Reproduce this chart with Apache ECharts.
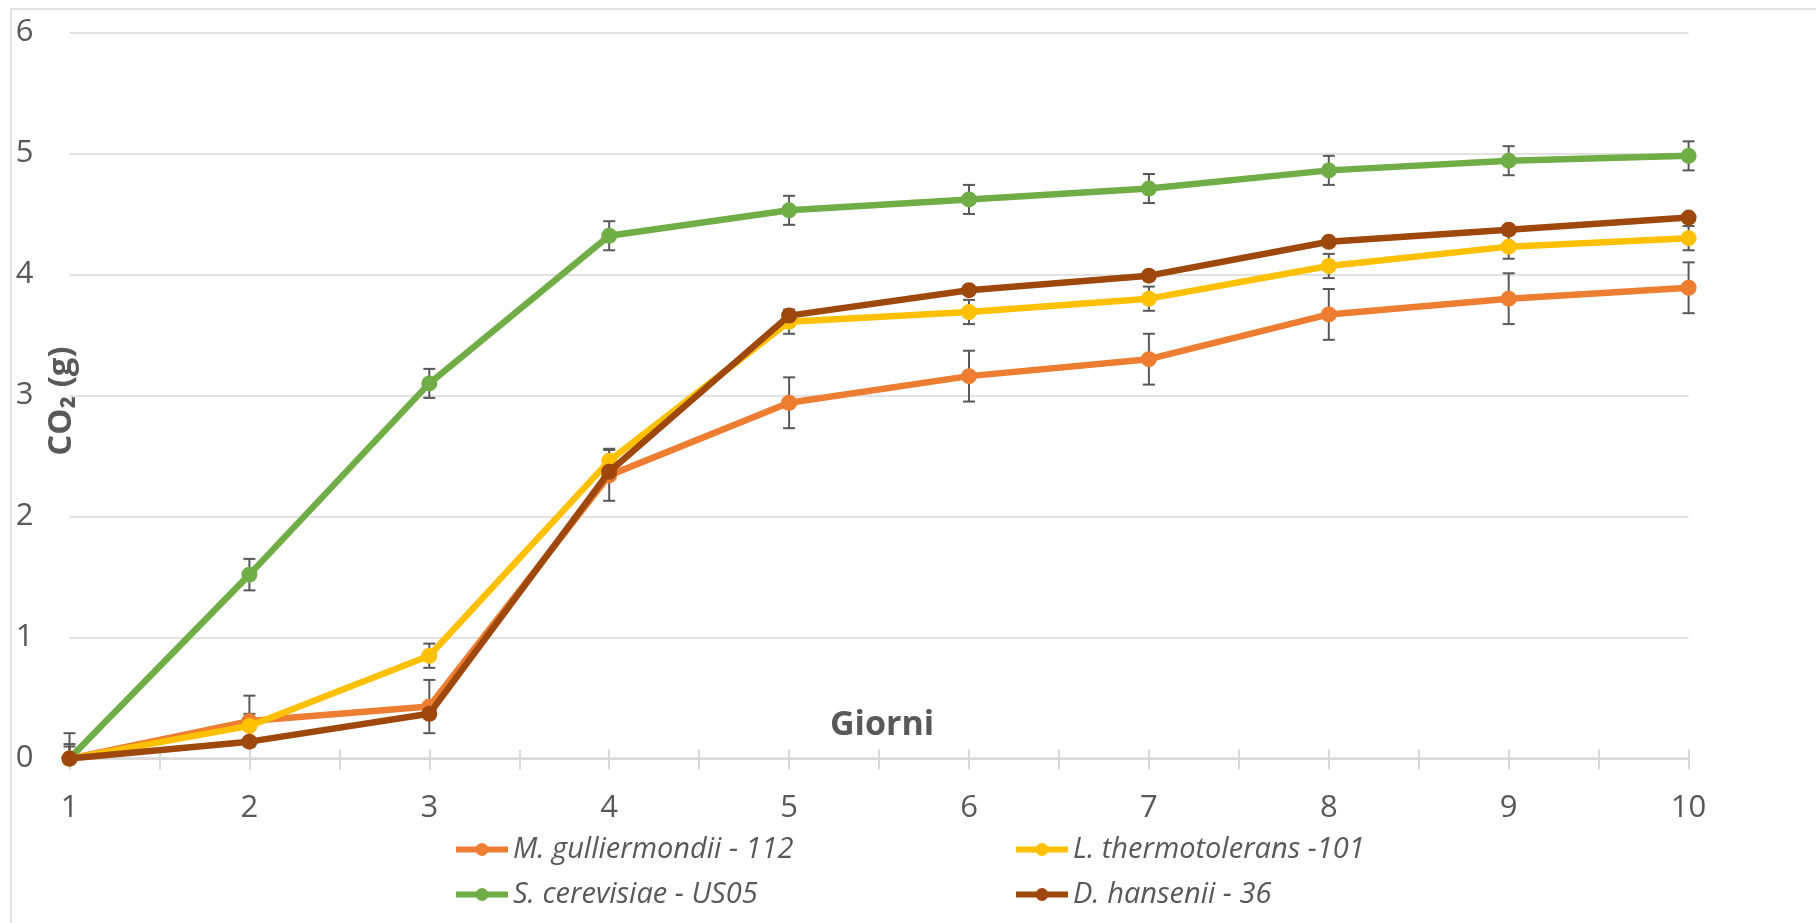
<!DOCTYPE html>
<html>
<head>
<meta charset="utf-8">
<script src="https://cdn.jsdelivr.net/npm/echarts@6/dist/echarts.min.js"></script>
<style>
html,body{margin:0;padding:0;background:#fff;}
#chart{width:1816px;height:923px;}
</style>
</head>
<body>
<div id="chart"></div>
<script>
var days = [1, 2, 3, 4, 5, 6, 7, 8, 9, 10];
var yTicks = [0, 1, 2, 3, 4, 5, 6];
var seriesNames = ['M. gulliermondii - 112', 'L. thermotolerans -101', 'S. cerevisiae - US05', 'D. hansenii - 36'];
var colors = ['#ED7D31', '#FFC000', '#70AD47', '#9E480E'];

var mGulliermondii = [0, 0.31, 0.43, 2.34, 2.94, 3.16, 3.30, 3.67, 3.80, 3.89];
var lThermotolerans = [0, 0.27, 0.85, 2.46, 3.61, 3.69, 3.80, 4.07, 4.23, 4.30];
var sCerevisiae = [0, 1.52, 3.10, 4.32, 4.53, 4.62, 4.71, 4.86, 4.94, 4.98];
var dHansenii = [0, 0.14, 0.37, 2.37, 3.66, 3.87, 3.99, 4.27, 4.37, 4.47];

var errM = [0.21, 0.21, 0.22, 0.21, 0.21, 0.21, 0.21, 0.21, 0.21, 0.21];
var errL = [0.10, 0.10, 0.10, 0.10, 0.10, 0.10, 0.10, 0.10, 0.10, 0.10];
var errS = [0.12, 0.13, 0.12, 0.12, 0.12, 0.12, 0.12, 0.12, 0.12, 0.12];
var errD = [0.03, 0.03, 0.03, 0.03, 0.03, 0.03, 0.03, 0.03, 0.03, 0.03];

var allValues = [mGulliermondii, lThermotolerans, sCerevisiae, dHansenii];
var allErrors = [errM, errL, errS, errD];

var FONT = '"Open Sans", "Noto Sans", sans-serif';
var TEXT = '#595959';
var GRIDC = '#d9d9d9';

function errRender(params, api) {
  var x = api.value(0), loV = api.value(1), hiV = api.value(2);
  var lo = Math.max(loV, 0);
  var pHi = api.coord([x, hiV]);
  var pLo = api.coord([x, lo]);
  var hw = 6;
  var st = {stroke: '#595959', lineWidth: 2};
  var ch = [
    {type: 'line', shape: {x1: pHi[0], y1: pHi[1], x2: pLo[0], y2: pLo[1]}, style: st},
    {type: 'line', shape: {x1: pHi[0] - hw, y1: pHi[1], x2: pHi[0] + hw, y2: pHi[1]}, style: st}
  ];
  if (loV >= 0) {
    ch.push({type: 'line', shape: {x1: pLo[0] - hw, y1: pLo[1], x2: pLo[0] + hw, y2: pLo[1]}, style: st});
  }
  return {type: 'group', children: ch};
}

var series = [];
for (var i = 0; i < 4; i++) {
  var edata = days.map(function (d, k) {
    return [d, allValues[i][k] - allErrors[i][k], allValues[i][k] + allErrors[i][k]];
  });
  series.push({
    type: 'custom',
    name: 'err' + i,
    renderItem: errRender,
    data: edata,
    encode: {x: 0, y: [1, 2]},
    z: 1,
    silent: true
  });
}
for (var j = 0; j < 4; j++) {
  series.push({
    type: 'line',
    name: seriesNames[j],
    data: days.map(function (d, k) { return [d, allValues[j][k]]; }),
    symbol: 'circle',
    symbolSize: 16,
    color: colors[j],
    lineStyle: {width: 6.5, color: colors[j]},
    itemStyle: {color: colors[j]},
    z: 2 + j
  });
}

var legendBase = {
  orient: 'vertical', top: 830,
  itemWidth: 52, itemHeight: 16, itemGap: 16,
  lineStyle: {width: 6},
  textStyle: {fontFamily: FONT, fontSize: 29, fontStyle: 'italic', color: TEXT}
};

var chart = echarts.init(document.getElementById('chart'), null, {renderer: 'canvas'});
chart.setOption({
  animation: false,
  backgroundColor: '#fff',
  grid: {left: 69.5, right: 127.4, top: 32.4, bottom: 164.4, containLabel: false},
  legend: [
    Object.assign({}, legendBase, {left: 448, data: [seriesNames[0], seriesNames[2]]}),
    Object.assign({}, legendBase, {left: 1008, data: [seriesNames[1], seriesNames[3]]})
  ],
  xAxis: [{
    type: 'value', min: days[0], max: days[days.length - 1], interval: 1,
    axisLine: {show: true, lineStyle: {color: GRIDC, width: 2.5}},
    axisTick: {show: true, length: 11, lineStyle: {color: GRIDC, width: 2}},
    minorTick: {show: true, splitNumber: 2, length: 11, lineStyle: {color: GRIDC, width: 2}},
    axisLabel: {margin: 34, fontFamily: FONT, fontSize: 31, color: TEXT},
    splitLine: {show: false}
  }, {
    type: 'value', min: days[0], max: days[days.length - 1], interval: 1, position: 'bottom',
    axisLine: {show: false},
    axisTick: {show: true, inside: true, length: 9, lineStyle: {color: GRIDC, width: 2}},
    minorTick: {show: true, splitNumber: 2, length: 9, lineStyle: {color: GRIDC, width: 2}},
    axisLabel: {show: false},
    splitLine: {show: false}
  }],
  yAxis: {
    type: 'value', min: yTicks[0], max: yTicks[yTicks.length - 1], interval: 1,
    axisLine: {show: false}, axisTick: {show: false},
    axisLabel: {margin: 36, fontFamily: FONT, fontSize: 31, color: TEXT},
    splitLine: {show: true, lineStyle: {color: GRIDC, width: 1.5}}
  },
  graphic: [
    {type: 'rect', z: -10, shape: {x: 11, y: 9, width: 1900, height: 1000}, style: {fill: 'none', stroke: GRIDC, lineWidth: 1.5}, silent: true},
    {type: 'text', x: 882, y: 725, z: 10, style: {text: 'Giorni', fontFamily: FONT, fontSize: 34, fontWeight: 'bold', fill: TEXT, align: 'center', verticalAlign: 'middle'}},
    {type: 'text', x: 62, y: 401, rotation: Math.PI / 2, z: 10, style: {text: 'CO\u2082 (g)', fontFamily: FONT, fontSize: 33, fontWeight: 'bold', fill: TEXT, align: 'center', verticalAlign: 'middle'}}
  ],
  series: series
});
</script>
</body>
</html>
